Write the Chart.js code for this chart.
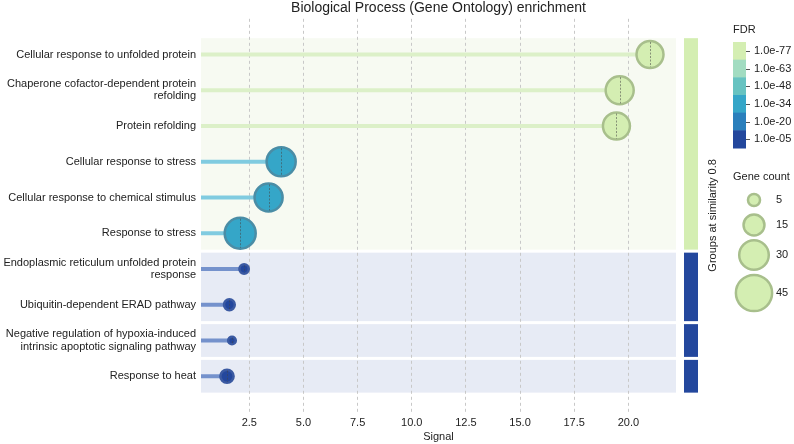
<!DOCTYPE html>
<html>
<head>
<meta charset="utf-8">
<title>Biological Process (Gene Ontology) enrichment</title>
<script src="https://cdn.jsdelivr.net/npm/chart.js@4.4.0/dist/chart.umd.min.js"></script>
<style>
    html, body { margin: 0; padding: 0; background: #ffffff; }
    #contenedor { width: 794px; height: 444px; position: relative; }
</style>
</head>
<body>
<div id="contenedor"><canvas id="grafico"></canvas></div>
<script>
// Términos (de arriba a abajo)
var categorias = [
    "Cellular response to unfolded protein",
    ["Chaperone cofactor-dependent protein", "refolding"],
    "Protein refolding",
    "Cellular response to stress",
    "Cellular response to chemical stimulus",
    "Response to stress",
    ["Endoplasmic reticulum unfolded protein", "response"],
    "Ubiquitin-dependent ERAD pathway",
    ["Negative regulation of hypoxia-induced", "intrinsic apoptotic signaling pathway"],
    "Response to heat"
];

// Valores de cada término
var senal = [21.0, 19.6, 19.45, 3.97, 3.39, 2.08, 2.26, 1.58, 1.70, 1.47];
var numGenes = [25, 27, 25, 29, 27, 33, 3, 4, 2, 6];
var fdrExponente = [-77, -77, -77, -34, -34, -34, -5, -5, -5, -5];
var grupos = [0, 0, 0, 0, 0, 0, 1, 1, 2, 3];

// Escala FDR y leyenda de tamaños
var fdrNiveles = [-77, -63, -48, -34, -20, -5];
var fdrEtiquetas = ["1.0e-77", "1.0e-63", "1.0e-48", "1.0e-34", "1.0e-20", "1.0e-05"];
var tamLeyenda = [5, 15, 30, 45];
var ticksX = [2.5, 5, 7.5, 10, 12.5, 15, 17.5, 20];

// Colores
var fdrColores = ["#d4eeb2", "#a2dcc1", "#67c3c1", "#35a6c8", "#2a7fbc", "#23479d"];
var fdrBordes = ["#a8bf8c", "#86b3a2", "#5aa0a4", "#4a8da6", "#3a6fa3", "#3b5aa2"];
var fdrLineas = ["#dcf0c8", "#bde5d3", "#9dd6d6", "#80cbe0", "#74a8d4", "#7592cc"];
var fondoGrupo = ["#f7faf2", "#e7ebf5"];

var xMin = 0.27;
var xMax = 22.2;
var fuente = "'Liberation Sans', Arial, sans-serif";

function indiceFdr(exp) {
    var mejor = 0;
    for (var i = 0; i < fdrNiveles.length; i++) {
        if (Math.abs(fdrNiveles[i] - exp) < Math.abs(fdrNiveles[mejor] - exp)) mejor = i;
    }
    return mejor;
}

function radio(n) {
    return 2.7 * Math.sqrt(n);
}

// Tramos de filas consecutivas del mismo grupo
function tramosGrupos() {
    var tramos = [];
    for (var i = 0; i < grupos.length; i++) {
        var t = tramos[tramos.length - 1];
        if (t && t.grupo === grupos[i]) {
            t.fin = i;
            t.fdr = Math.min(t.fdr, fdrExponente[i]);
        } else {
            tramos.push({ grupo: grupos[i], ini: i, fin: i, fdr: fdrExponente[i] });
        }
    }
    return tramos;
}

// Datasets: una línea por término y luego las burbujas
var datasets = [];
for (var i = 0; i < categorias.length; i++) {
    datasets.push({
        type: "line",
        data: [{ x: xMin, y: i }, { x: senal[i], y: i }],
        borderColor: fdrLineas[indiceFdr(fdrExponente[i])],
        borderWidth: 4,
        borderCapStyle: "butt",
        pointRadius: 0,
        fill: false,
        order: 2
    });
}

var puntos = [];
for (var i = 0; i < categorias.length; i++) {
    puntos.push({ x: senal[i], y: i, r: radio(numGenes[i]) });
}
datasets.push({
    type: "bubble",
    data: puntos,
    backgroundColor: fdrExponente.map(function (e) { return fdrColores[indiceFdr(e)]; }),
    borderColor: fdrExponente.map(function (e) { return fdrBordes[indiceFdr(e)]; }),
    borderWidth: 2.5,
    order: 1
});

// Fondo de los grupos (antes de la rejilla)
var pluginFondo = {
    id: "fondo",
    beforeDraw: function (chart) {
        var ctx = chart.ctx;
        var area = chart.chartArea;
        var ys = chart.scales.y;
        ctx.save();
        tramosGrupos().forEach(function (t, k) {
            var y1 = ys.getPixelForValue(t.ini - 0.5) + 1.5;
            var y2 = ys.getPixelForValue(t.fin + 0.5) - 1.5;
            ctx.fillStyle = fondoGrupo[k === 0 ? 0 : 1];
            ctx.fillRect(area.left, y1, area.right - area.left, y2 - y1);
        });
        ctx.restore();
    }
};

// Línea central de cada burbuja, barra de grupos y leyendas
var pluginExtras = {
    id: "extras",
    afterDatasetsDraw: function (chart) {
        var ctx = chart.ctx;
        var meta = chart.getDatasetMeta(chart.data.datasets.length - 1);
        ctx.save();
        ctx.strokeStyle = "rgba(70,70,70,0.55)";
        ctx.lineWidth = 1;
        ctx.setLineDash([2, 1.5]);
        meta.data.forEach(function (el) {
            var r = el.options.radius - 1;
            ctx.beginPath();
            ctx.moveTo(Math.round(el.x) + 0.5, el.y - r);
            ctx.lineTo(Math.round(el.x) + 0.5, el.y + r);
            ctx.stroke();
        });
        ctx.restore();
    },
    afterDraw: function (chart) {
        var ctx = chart.ctx;
        var area = chart.chartArea;
        var ys = chart.scales.y;
        ctx.save();

        // Barra de grupos
        tramosGrupos().forEach(function (t) {
            var y1 = ys.getPixelForValue(t.ini - 0.5) + 1.5;
            var y2 = ys.getPixelForValue(t.fin + 0.5) - 1.5;
            ctx.fillStyle = fdrColores[indiceFdr(t.fdr)];
            ctx.fillRect(684, y1, 14, y2 - y1);
        });

        ctx.fillStyle = "#222";
        ctx.font = "11px " + fuente;
        ctx.textBaseline = "middle";
        ctx.textAlign = "center";
        ctx.translate(713, (area.top + area.bottom) / 2);
        ctx.rotate(-Math.PI / 2);
        ctx.fillText("Groups at similarity 0.8", 0, 0);
        ctx.setTransform(1, 0, 0, 1, 0, 0);

        // Leyenda FDR
        ctx.textAlign = "left";
        ctx.fillText("FDR", 733, 30);
        var alto = (148 - 42) / fdrColores.length;
        for (var k = 0; k < fdrColores.length; k++) {
            var yc = 42 + alto * k;
            ctx.fillStyle = fdrColores[k];
            ctx.fillRect(733, yc, 13, alto + 0.5);
            ctx.strokeStyle = "#555";
            ctx.lineWidth = 1;
            ctx.beginPath();
            ctx.moveTo(746, Math.round(yc + alto / 2) + 0.5);
            ctx.lineTo(750, Math.round(yc + alto / 2) + 0.5);
            ctx.stroke();
            ctx.fillStyle = "#222";
            ctx.fillText(fdrEtiquetas[k], 754, yc + alto / 2);
        }

        // Leyenda de número de genes
        ctx.fillText("Gene count", 733, 177);
        var yLeyenda = [200, 225, 255, 293];
        for (var k = 0; k < tamLeyenda.length; k++) {
            ctx.beginPath();
            ctx.arc(754, yLeyenda[k], radio(tamLeyenda[k]), 0, Math.PI * 2);
            ctx.fillStyle = fdrColores[0];
            ctx.fill();
            ctx.strokeStyle = fdrBordes[0];
            ctx.lineWidth = 2.5;
            ctx.stroke();
            ctx.fillStyle = "#222";
            ctx.fillText(String(tamLeyenda[k]), 776, yLeyenda[k]);
        }
        ctx.restore();
    }
};

new Chart(document.getElementById("grafico"), {
    type: "bubble",
    data: { datasets: datasets },
    plugins: [pluginFondo, pluginExtras],
    options: {
        responsive: true,
        maintainAspectRatio: false,
        animation: false,
        layout: { padding: { left: 0, right: 118, top: 0, bottom: 0 } },
        plugins: {
            legend: { display: false },
            tooltip: { enabled: false },
            title: {
                display: true,
                fullSize: false,
                text: "Biological Process (Gene Ontology) enrichment",
                color: "#222",
                font: { family: fuente, size: 14, weight: "normal" },
                padding: { top: 0, bottom: 2 }
            }
        },
        scales: {
            x: {
                type: "linear",
                min: xMin,
                max: xMax,
                afterBuildTicks: function (scale) {
                    scale.ticks = ticksX.map(function (v) { return { value: v }; });
                },
                afterFit: function (scale) { scale.height = 32; },
                ticks: {
                    color: "#222",
                    font: { family: fuente, size: 11 },
                    padding: 4,
                    callback: function (v) { return Number(v).toFixed(1); }
                },
                grid: { color: "#c8c8c8", lineWidth: 1, drawTicks: false },
                border: { display: false, dash: [3, 3] },
                title: {
                    display: true,
                    text: "Signal",
                    color: "#222",
                    font: { family: fuente, size: 11 },
                    padding: { top: 2, bottom: 0 }
                }
            },
            y: {
                type: "linear",
                reverse: true,
                min: -1,
                max: 10,
                afterBuildTicks: function (scale) {
                    scale.ticks = categorias.map(function (c, i) { return { value: i }; });
                },
                afterFit: function (scale) { scale.width = 201; },
                ticks: {
                    color: "#222",
                    font: { family: fuente, size: 11, lineHeight: 1.1 },
                    padding: 5,
                    autoSkip: false,
                    callback: function (v) { return categorias[v]; }
                },
                grid: { display: false, drawTicks: false },
                border: { display: false }
            }
        }
    }
});
</script>
</body>
</html>
